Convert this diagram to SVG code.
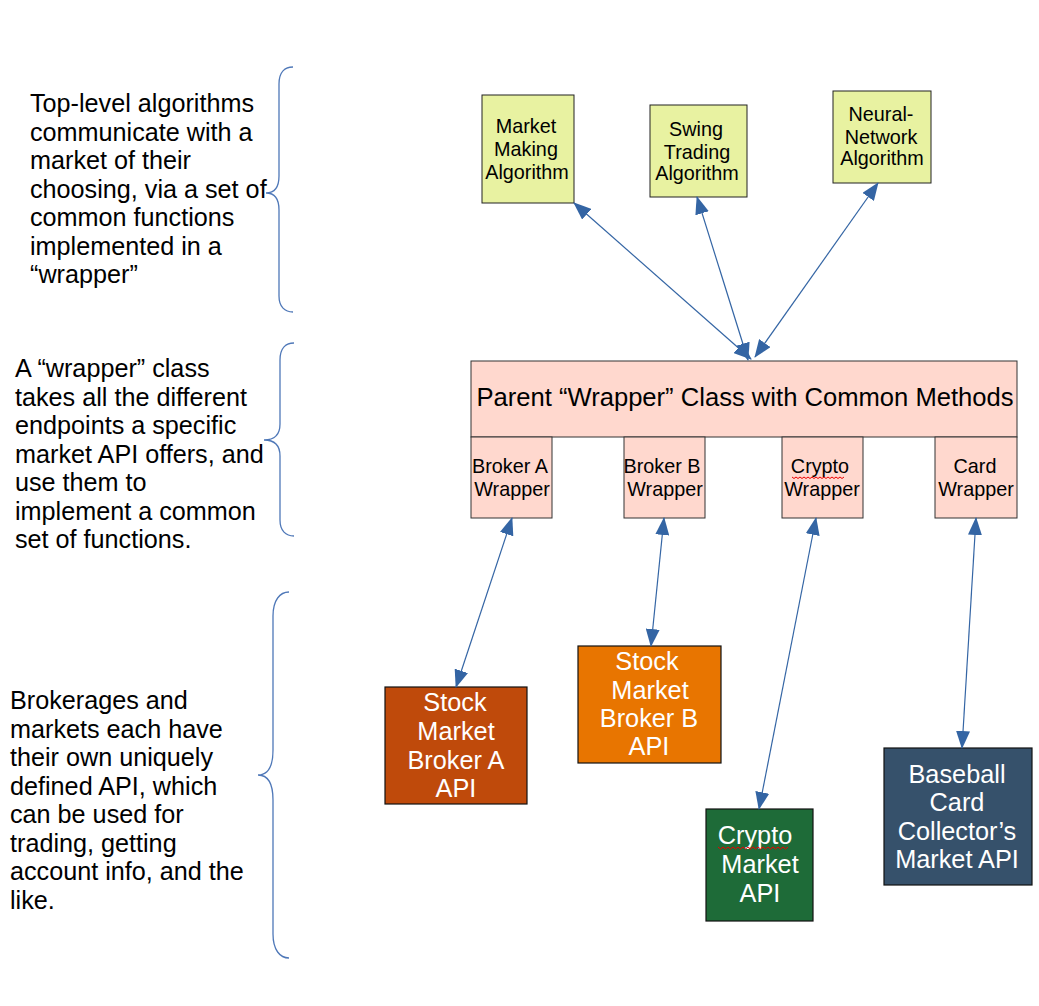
<svg xmlns="http://www.w3.org/2000/svg" width="1039" height="1006" viewBox="0 0 1039 1006">
<defs>
<marker id="ah" viewBox="0 0 18 14" refX="17" refY="7" markerWidth="18" markerHeight="14" markerUnits="userSpaceOnUse" orient="auto-start-reverse">
<path d="M0,0 L18,7 L0,14 Z" fill="#3465a4"/>
</marker>
<style>
text{font-family:"Liberation Sans",Arial,sans-serif}
.note{font-size:25.2px;fill:#000}
.alg rect{fill:#e8f2a1;stroke:#222;stroke-width:1}
.alg text{font-size:19.8px;fill:#000;text-anchor:middle}
.wr rect{fill:#ffd8ce;stroke:#333;stroke-width:1}
.wr text{font-size:19.8px;fill:#000;text-anchor:middle}
.api rect{stroke:#111;stroke-width:1.2}
.api text{font-size:25.3px;fill:#fff;text-anchor:middle}
.conn line{stroke:#3465a4;stroke-width:1.2;marker-start:url(#ah);marker-end:url(#ah)}
.brace{fill:none;stroke:#4f78b8;stroke-width:1.3}
.squig{fill:none;stroke:#e00;stroke-width:1}
</style>
</defs>
<rect width="1039" height="1006" fill="#fff"/>

<g id="notes">
<text class="note" x="30" y="112">Top-level algorithms</text>
<text class="note" x="30" y="140.5">communicate with a</text>
<text class="note" x="30" y="169">market of their</text>
<text class="note" x="30" y="197.5">choosing, via a set of</text>
<text class="note" x="30" y="226">common functions</text>
<text class="note" x="30" y="254.5">implemented in a</text>
<text class="note" x="30" y="283">“wrapper”</text>

<text class="note" x="15" y="377">A “wrapper” class</text>
<text class="note" x="15" y="405.5">takes all the different</text>
<text class="note" x="15" y="434">endpoints a specific</text>
<text class="note" x="15" y="462.5">market API offers, and</text>
<text class="note" x="15" y="491">use them to</text>
<text class="note" x="15" y="519.5">implement a common</text>
<text class="note" x="15" y="548">set of functions.</text>

<text class="note" x="10" y="709">Brokerages and</text>
<text class="note" x="10" y="737.5">markets each have</text>
<text class="note" x="10" y="766">their own uniquely</text>
<text class="note" x="10" y="794.5">defined API, which</text>
<text class="note" x="10" y="823">can be used for</text>
<text class="note" x="10" y="851.5">trading, getting</text>
<text class="note" x="10" y="880">account info, and the</text>
<text class="note" x="10" y="908.5">like.</text>
</g>

<g id="braces">
<path class="brace" d="M293,67 C285,67 279,72 279,84 L279,176 C279,187 275,193 266,193 C275,193 279,200 279,210 L279,296 C279,307 285,312 293,312"/>
<path class="brace" d="M294,343 C286,343 280,348 280,360 L280,424 C280,434 275,440 264,440 C275,440 280,446 280,456 L280,520 C280,531 286,536 294,536"/>
<path class="brace" d="M289,592 C280,592 273,600 273,616 L273,750 C273,766 268,775 258,775 C268,775 273,784 273,800 L273,934 C273,950 280,958 289,958"/>
</g>

<g id="algo-market-making" class="alg">
<rect x="482" y="95" width="92" height="108"/>
<text x="526" y="133">Market</text>
<text x="526" y="156">Making</text>
<text x="527" y="178.5">Algorithm</text>
</g>
<g id="algo-swing" class="alg">
<rect x="650" y="105" width="97" height="92"/>
<text x="696" y="136">Swing</text>
<text x="697" y="158.5">Trading</text>
<text x="697" y="180">Algorithm</text>
</g>
<g id="algo-neural" class="alg">
<rect x="833" y="91" width="98" height="92"/>
<text x="881" y="121">Neural-</text>
<text x="881" y="143.5">Network</text>
<text x="882" y="165">Algorithm</text>
</g>

<g id="parent-wrapper" class="wr">
<rect x="471" y="361" width="546" height="76"/>
<text x="745" y="406" style="font-size:25.6px">Parent “Wrapper” Class with Common Methods</text>
</g>
<g id="broker-a-wrapper" class="wr">
<rect x="471" y="437" width="81" height="81"/>
<text x="510" y="473">Broker A</text>
<text x="512" y="496">Wrapper</text>
</g>
<g id="broker-b-wrapper" class="wr">
<rect x="624" y="437" width="81" height="81"/>
<text x="662" y="473">Broker B</text>
<text x="665" y="496">Wrapper</text>
</g>
<g id="crypto-wrapper" class="wr">
<rect x="782" y="437" width="81" height="81"/>
<text x="820" y="473">Crypto</text>
<text x="822" y="496">Wrapper</text>
<path class="squig" d="M792,477 l2,1.5 l2,-1.5 l2,1.5 l2,-1.5 l2,1.5 l2,-1.5 l2,1.5 l2,-1.5 l2,1.5 l2,-1.5 l2,1.5 l2,-1.5 l2,1.5 l2,-1.5 l2,1.5 l2,-1.5 l2,1.5 l2,-1.5 l2,1.5 l2,-1.5 l2,1.5 l2,-1.5 l2,1.5 l2,-1.5 l2,1.5 l2,-1.5"/>
</g>
<g id="card-wrapper" class="wr">
<rect x="935" y="437" width="82" height="81"/>
<text x="975" y="473">Card</text>
<text x="976" y="496">Wrapper</text>
</g>

<g id="api-stock-a" class="api">
<rect x="385" y="687" width="142" height="117" fill="#bf4a0b"/>
<text x="455" y="711">Stock</text>
<text x="456" y="740">Market</text>
<text x="456" y="769">Broker A</text>
<text x="456" y="797">API</text>
</g>
<g id="api-stock-b" class="api">
<rect x="578" y="646" width="143" height="117" fill="#e87500"/>
<text x="647" y="670">Stock</text>
<text x="650" y="698.5">Market</text>
<text x="649" y="727">Broker B</text>
<text x="649" y="755">API</text>
</g>
<g id="api-crypto" class="api">
<rect x="706" y="809" width="107" height="112" fill="#1e6b38"/>
<text x="755" y="843.5">Crypto</text>
<text x="760" y="873">Market</text>
<text x="760" y="902">API</text>
<path class="squig" d="M718,847 l2.5,2 l2.5,-2 l2.5,2 l2.5,-2 l2.5,2 l2.5,-2 l2.5,2 l2.5,-2 l2.5,2 l2.5,-2 l2.5,2 l2.5,-2 l2.5,2 l2.5,-2 l2.5,2 l2.5,-2 l2.5,2 l2.5,-2 l2.5,2 l2.5,-2 l2.5,2 l2.5,-2 l2.5,2 l2.5,-2 l2.5,2 l2.5,-2 l2.5,2 l2.5,-2"/>
</g>
<g id="api-baseball" class="api">
<rect x="884" y="748" width="148" height="137" fill="#36516b"/>
<text x="957" y="782.5">Baseball</text>
<text x="957" y="811">Card</text>
<text x="957" y="839.5">Collector’s</text>
<text x="957" y="868">Market API</text>
</g>

<g id="connectors" class="conn">
<line x1="574" y1="203" x2="751" y2="359"/>
<line x1="697" y1="197" x2="748" y2="360"/>
<line x1="878" y1="183" x2="755" y2="357"/>
<line x1="512" y1="518" x2="456" y2="687"/>
<line x1="664" y1="518" x2="651" y2="646"/>
<line x1="816" y1="518" x2="759" y2="809"/>
<line x1="976" y1="518" x2="962" y2="748"/>
</g>
</svg>
